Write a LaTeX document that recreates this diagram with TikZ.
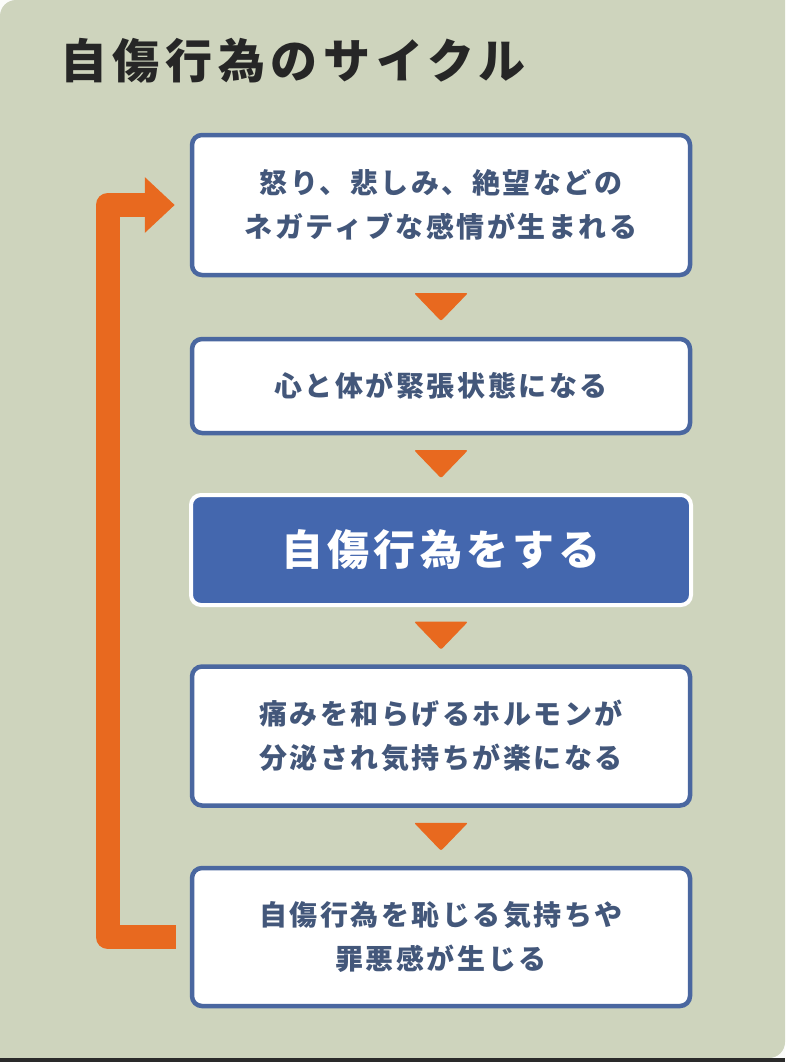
\documentclass[tikz,border=0pt]{standalone}
\usepackage{fontspec}
\usetikzlibrary{arrows.meta,calc}
\newfontfamily\jptitle[LetterSpace=12]{Noto Sans CJK JP}
\newfontfamily\jpbox[LetterSpace=9]{Noto Sans CJK JP}
\newfontfamily\jpbig[LetterSpace=10]{Noto Sans CJK JP}
\definecolor{bgcol}{HTML}{CED4BD}
\definecolor{bordercol}{HTML}{4A67A0}
\definecolor{fillcol}{HTML}{4467AE}
\definecolor{txtcol}{HTML}{43577A}
\definecolor{orangecol}{HTML}{E8691F}
\definecolor{stripcol}{HTML}{2A2A2A}
\tikzset{
  stepbox/.style={draw=bordercol, line width=4.5pt, fill=white, rounded corners=10pt,
    minimum width=498pt, inner sep=0pt, align=center, text=txtcol,
    font=\jpbox\bfseries\fontsize{28pt}{44pt}\selectfont},
  keybox/.style={draw=white, line width=4pt, fill=fillcol, rounded corners=10pt,
    minimum width=500pt, inner sep=0pt, align=center, text=white,
    font=\jpbig\bfseries\fontsize{42pt}{48pt}\selectfont},
  tri/.style={fill=orangecol, rounded corners=2pt},
  cycleline/.style={draw=orangecol, line width=24pt, line join=round,
    -{Triangle[length=30pt,width=54pt]}},
}
\newcommand\downtri[2]{%
  \path (#1.south) -- (#2.north) coordinate[midway] (m#1#2);
  \fill[tri] ($(m#1#2)+(-27,-14)$) -- ($(m#1#2)+(27,-14)$) -- ($(m#1#2)+(0,14)$) -- cycle;}
\begin{document}
\begin{tikzpicture}[x=1pt,y=-1pt]
\useasboundingbox (0,0) rectangle (785,1062);
\fill[white!92!bgcol] (0,0) rectangle (785,1062);
\fill[bgcol] (0,20) [rounded corners=16pt] -- (0,0) [sharp corners] -- (785,0)
  [rounded corners=16pt] -- (785,1058) [sharp corners] -- (0,1058) -- cycle;
\fill[stripcol] (0,1058) rectangle (785,1062);

\node[anchor=west, text=black!85, font=\jptitle\bfseries\fontsize{47pt}{50pt}\selectfont, inner sep=0pt] (title) at (60,61) {自傷行為のサイクル};

\node[stepbox, minimum height=140pt] (b1) at (441,205) {怒り、悲しみ、絶望などの\\ネガティブな感情が生まれる};
\node[stepbox, minimum height=94pt] (b2) at (441,386) {心と体が緊張状態になる};
\node[keybox, minimum height=110pt] (b3) at (441,550) {自傷行為をする};
\node[stepbox, minimum height=139pt] (b4) at (441,736) {痛みを和らげるホルモンが\\分泌され気持ちが楽になる};
\node[stepbox, minimum height=138pt] (b5) at (441,937) {自傷行為を恥じる気持ちや\\罪悪感が生じる};

\downtri{b1}{b2}
\downtri{b2}{b3}
\downtri{b3}{b4}
\downtri{b4}{b5}

\coordinate (s) at ([xshift=-14pt]b5.west);
\coordinate (e) at ([xshift=-15pt]b1.west);
\draw[cycleline] (s) -- (107.5,0 |- s) -- (107.5,0 |- e) -- (e);
\end{tikzpicture}
\end{document}
